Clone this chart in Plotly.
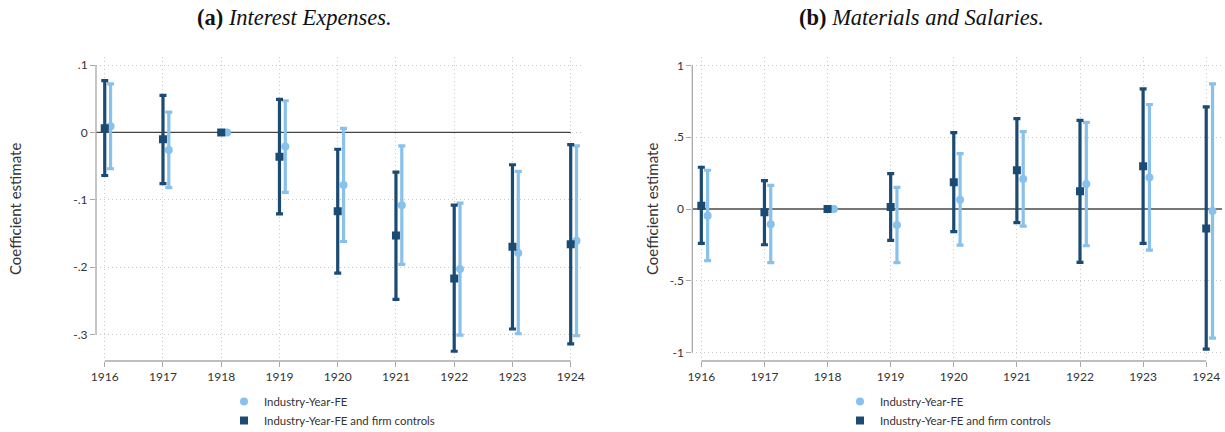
import plotly.graph_objects as go

# ---------------- data ----------------
years = [1916, 1917, 1918, 1919, 1920, 1921, 1922, 1923, 1924]
year_ticks = ["1916", "1917", "1918", "1919", "1920", "1921", "1922", "1923", "1924"]
offset_fe = 0.1  # horizontal dodge of the FE-only series

# Panel (a): Interest Expenses
a_fe_est = [0.009, -0.026, 0.0, -0.021, -0.078, -0.108, -0.203, -0.179, -0.161]
a_fe_lo = [-0.054, -0.082, 0.0, -0.089, -0.162, -0.196, -0.301, -0.299, -0.302]
a_fe_hi = [0.072, 0.030, 0.0, 0.047, 0.006, -0.020, -0.105, -0.058, -0.020]
a_ctrl_est = [0.006, -0.010, 0.0, -0.036, -0.117, -0.153, -0.217, -0.170, -0.166]
a_ctrl_lo = [-0.064, -0.076, 0.0, -0.121, -0.209, -0.248, -0.325, -0.292, -0.314]
a_ctrl_hi = [0.077, 0.055, 0.0, 0.049, -0.025, -0.059, -0.108, -0.048, -0.018]
a_yticks = [-0.3, -0.2, -0.1, 0.0, 0.1]
a_yticktext = ["-.3", "-.2", "-.1", "0", ".1"]

# Panel (b): Materials and Salaries
b_fe_est = [-0.047, -0.107, 0.0, -0.112, 0.065, 0.209, 0.174, 0.219, -0.014]
b_fe_lo = [-0.360, -0.374, 0.0, -0.374, -0.251, -0.119, -0.256, -0.286, -0.900]
b_fe_hi = [0.270, 0.165, 0.0, 0.151, 0.386, 0.539, 0.604, 0.728, 0.872]
b_ctrl_est = [0.023, -0.023, 0.0, 0.014, 0.186, 0.270, 0.123, 0.298, -0.135]
b_ctrl_lo = [-0.239, -0.249, 0.0, -0.219, -0.158, -0.095, -0.372, -0.239, -0.976]
b_ctrl_hi = [0.291, 0.198, 0.0, 0.246, 0.532, 0.630, 0.618, 0.837, 0.711]
b_yticks = [-1.0, -0.5, 0.0, 0.5, 1.0]
b_yticktext = ["-1", "-.5", "0", ".5", "1"]

label_fe = "Industry-Year-FE"
label_ctrl = "Industry-Year-FE and firm controls"
titles = ["<b>(a)</b> <i>Interest Expenses.</i>", "<b>(b)</b> <i>Materials and Salaries.</i>"]
ytitle = "Coefficient estimate"

# ---------------- style ----------------
LIGHT = "#88c1eb"
DARK = "#1b4a72"
AXIS = "#a8a8a8"
GRID = "#c8c8c8"
TXT = "#333333"
FONT = "Lato"

W, H = 1225, 432
xr_a = [1915.85, 1924.206]
xr_b = [1915.857, 1924.25]
yr_a = [-0.3395, 0.112]
yr_b = [-1.059, 1.059]

fig = go.Figure()

# zero reference lines (drawn first so they sit under the estimates)
fig.add_trace(go.Scatter(x=[xr_a[0], years[-1]], y=[0, 0], mode="lines",
                         line=dict(color="#444444", width=1.2), xaxis="x", yaxis="y",
                         showlegend=False, hoverinfo="skip", cliponaxis=False))
fig.add_trace(go.Scatter(x=xr_b, y=[0, 0], mode="lines",
                         line=dict(color="#777777", width=2), xaxis="x2", yaxis="y2",
                         showlegend=False, hoverinfo="skip", cliponaxis=False))


def add_series(xs, est, lo, hi, color, symbol, size, xa, ya):
    fig.add_trace(go.Scatter(
        x=xs, y=est, mode="markers", xaxis=xa, yaxis=ya, showlegend=False,
        marker=dict(color=color, symbol=symbol, size=size, line=dict(width=0)),
        error_y=dict(type="data", symmetric=False,
                     array=[h - e for h, e in zip(hi, est)],
                     arrayminus=[e - l for e, l in zip(est, lo)],
                     color=color, thickness=3.2, width=3.5),
        hoverinfo="skip",
    ))


x_fe = [y + offset_fe for y in years]

# panel a
add_series(x_fe, a_fe_est, a_fe_lo, a_fe_hi, LIGHT, "circle", 8, "x", "y")
add_series(years, a_ctrl_est, a_ctrl_lo, a_ctrl_hi, DARK, "square", 8, "x", "y")
# panel b
add_series(x_fe, b_fe_est, b_fe_lo, b_fe_hi, LIGHT, "circle", 8, "x2", "y2")
add_series(years, b_ctrl_est, b_ctrl_lo, b_ctrl_hi, DARK, "square", 8, "x2", "y2")

# legend entries (one legend per panel)
for lg, xa, ya in [("legend", "x", "y"), ("legend2", "x2", "y2")]:
    fig.add_trace(go.Scatter(x=[None], y=[None], mode="markers", name=label_fe,
                             marker=dict(color=LIGHT, symbol="circle", size=8),
                             legend=lg, xaxis=xa, yaxis=ya))
    fig.add_trace(go.Scatter(x=[None], y=[None], mode="markers", name=label_ctrl,
                             marker=dict(color=DARK, symbol="square", size=8),
                             legend=lg, xaxis=xa, yaxis=ya))

ydom = [1 - 361 / H, 1 - 57 / H]
xdom_a = [96 / W, 582.7 / W]
xdom_b = [692.3 / W, 1222 / W]

common_x = dict(tickmode="array", tickvals=years, ticktext=year_ticks,
                ticks="outside", ticklen=5, tickcolor=AXIS, tickwidth=1,
                showline=False, zeroline=False, showgrid=True, automargin=False,
                gridcolor=GRID, griddash="1px,3px", gridwidth=1,
                tickfont=dict(family=FONT, size=12, color=TXT))
common_y = dict(tickmode="array", ticks="outside", ticklen=5, tickcolor=AXIS,
                tickwidth=1, showline=False, zeroline=False, showgrid=True, automargin=False,
                gridcolor=GRID, griddash="1px,3px", gridwidth=1,
                tickfont=dict(family=FONT, size=12, color=TXT))

fig.update_layout(
    width=W, height=H,
    margin=dict(l=0, r=0, t=0, b=0, autoexpand=False),
    paper_bgcolor="white", plot_bgcolor="white",
    xaxis=dict(domain=xdom_a, range=xr_a, anchor="y", **common_x),
    yaxis=dict(domain=ydom, range=yr_a, anchor="x",
               tickvals=a_yticks, ticktext=a_yticktext, **common_y),
    xaxis2=dict(domain=xdom_b, range=xr_b, anchor="y2", **common_x),
    yaxis2=dict(domain=ydom, range=yr_b, anchor="x2",
                tickvals=b_yticks, ticktext=b_yticktext, **common_y),
    legend=dict(x=224 / W, y=1 - 387 / H, xanchor="left", yanchor="top",
                bgcolor="rgba(0,0,0,0)", itemwidth=30, tracegroupgap=0,
                font=dict(family=FONT, size=11.4, color=TXT)),
    legend2=dict(x=840 / W, y=1 - 387 / H, xanchor="left", yanchor="top",
                 bgcolor="rgba(0,0,0,0)", itemwidth=30, tracegroupgap=0,
                 font=dict(family=FONT, size=11.4, color=TXT)),
    showlegend=True,
)

shapes = []
# axis lines spanning tick range (Stata style)
for xa, ya, ylo, yhi in [("x", "y", a_yticks[0], a_yticks[-1]),
                         ("x2", "y2", b_yticks[0], b_yticks[-1])]:
    shapes.append(dict(type="line", xref=xa + " domain", yref=ya, x0=0, x1=0,
                       y0=ylo, y1=yhi, line=dict(color=AXIS, width=1.3), layer="above"))
    shapes.append(dict(type="line", xref=xa, yref=ya + " domain", x0=years[0], x1=years[-1],
                       y0=0, y1=0, line=dict(color=AXIS, width=1.3), layer="above"))
fig.update_layout(shapes=shapes)

annotations = [
    dict(text=titles[0], x=294 / W, y=1 - 17 / H, xref="paper", yref="paper",
         showarrow=False, xanchor="center", yanchor="middle",
         font=dict(family="Liberation Serif", size=22.5, color="#111111")),
    dict(text=titles[1], x=921 / W, y=1 - 17 / H, xref="paper", yref="paper",
         showarrow=False, xanchor="center", yanchor="middle",
         font=dict(family="Liberation Serif", size=22.5, color="#111111")),
    dict(text=ytitle, x=15 / W, y=1 - 209 / H, xref="paper", yref="paper",
         showarrow=False, textangle=-90, xanchor="center", yanchor="middle",
         font=dict(family=FONT, size=15, color=TXT)),
    dict(text=ytitle, x=652 / W, y=1 - 209 / H, xref="paper", yref="paper",
         showarrow=False, textangle=-90, xanchor="center", yanchor="middle",
         font=dict(family=FONT, size=15, color=TXT)),
]
fig.update_layout(annotations=annotations)

fig.write_html(
    "out.html",
    config={"displayModeBar": False},
    post_script="document.body.style.margin='0';document.body.style.overflow='hidden';",
)
